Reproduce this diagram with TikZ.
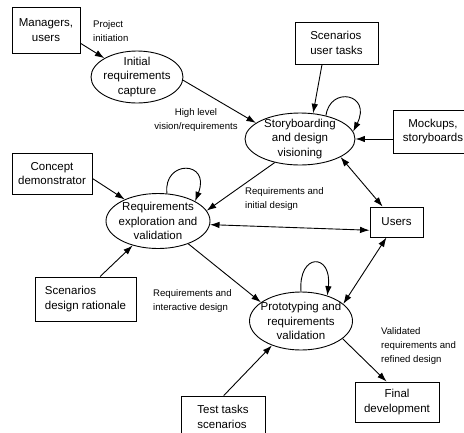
\documentclass[tikz,border=0pt]{standalone}
\usepackage{fontspec}
\setmainfont{Liberation Sans}
\usepackage{tikz}
\usetikzlibrary{shapes.geometric}
\usetikzlibrary{arrows.meta}

\begin{document}
\begin{tikzpicture}[x=1pt,y=-1pt,
    box/.style={draw,line width=0.9pt,inner sep=0pt,font=\fontsize{11.5}{14.5}\selectfont},
    oval/.style={draw,ellipse,line width=0.9pt,inner sep=-5pt,align=center,font=\fontsize{11.5}{14.5}\selectfont},
    lbl/.style={inner sep=0pt,align=left,anchor=north west,font=\fontsize{9.6}{14}\selectfont},
    flow/.style={line width=0.9pt},
    >={Latex[length=9.5pt,width=6.5pt]}]
\useasboundingbox (0,0) rectangle (464,432);

\node[box,minimum width=68pt,minimum height=46pt,align=center] at (46,30) (mgr) {Managers,\\users};
\node[oval,minimum width=92pt,minimum height=52pt] at (137,77) (init) {Initial\\requirements\\capture};
\node[box,minimum width=83pt,minimum height=42pt,align=left] at (336.5,43) (sut) {Scenarios\\user tasks};
\node[oval,minimum width=110pt,minimum height=52pt] at (300,139) (story) {Storyboarding\\and design\\visioning};
\node[box,minimum width=80pt,minimum height=43pt,align=center] at (433,131.5) (mock) {Mockups,\\storyboards};
\node[box,minimum width=80pt,minimum height=41pt,align=center] at (52,173.5) (concept) {Concept\\demonstrator};
\node[oval,minimum width=104pt,minimum height=55pt] at (158,221) (req) {Requirements\\exploration and\\validation};
\node[box,minimum width=53pt,minimum height=30pt] at (396.5,222) (users) {Users};
\node[box,minimum width=101pt,minimum height=44pt,align=left] at (85.5,299) (sdr) {Scenarios\\design rationale};
\node[oval,minimum width=103pt,minimum height=58pt] at (301,321) (proto) {Prototyping and\\requirements\\validation};
\node[box,minimum width=84pt,minimum height=40pt,align=center] at (397,402) (final) {Final\\development};
\node[box,minimum width=84pt,minimum height=42pt,align=left] at (223,417) (tt) {Test tasks\\scenarios};

\node[lbl] at (93,20) (l1) {Project\\initiation};
\node[lbl,anchor=north,align=center] at (196,108) (l2) {High level\\vision/requirements};
\node[lbl] at (245,187) (l3) {Requirements and\\initial design};
\node[lbl] at (153,289) (l4) {Requirements and\\interactive design};
\node[lbl] at (381,327) (l5) {Validated\\requirements and\\refined design};

\draw[flow,->] (mgr.-21) -- (init.150);
\draw[flow,->] (init.-4) -- (story.160);
\draw[flow,->] (sut.236) -- (story.63);
\draw[flow,->] (story.42) .. controls +(4,-30) and +(19,-38) .. (story.8);
\draw[flow,->] (mock.west |- story.east) -- (story.east);
\draw[flow,->] (story.223) -- (req.12);
\draw[flow,<->] (story.-24) -- (users.132);
\draw[flow,->] (concept.-7) -- (req.147);
\draw[flow,->] (sdr.57) -- (req.224);
\draw[flow,->] (req.72) .. controls +(-4,-34) and +(16,-41) .. (req.28);
\draw[flow,<->] (req.-4) -- (users.197);
\draw[flow,->] (req.-37) -- (proto.155);
\draw[flow,->] (proto.90) .. controls +(-3,-39) and +(5,-43) .. (proto.44);
\draw[flow,<->] (users.237) -- (proto.22);
\draw[flow,->] (tt.88) -- (proto.220);
\draw[flow,->] (proto.-23) -- (final.117);

\end{tikzpicture}
\end{document}
